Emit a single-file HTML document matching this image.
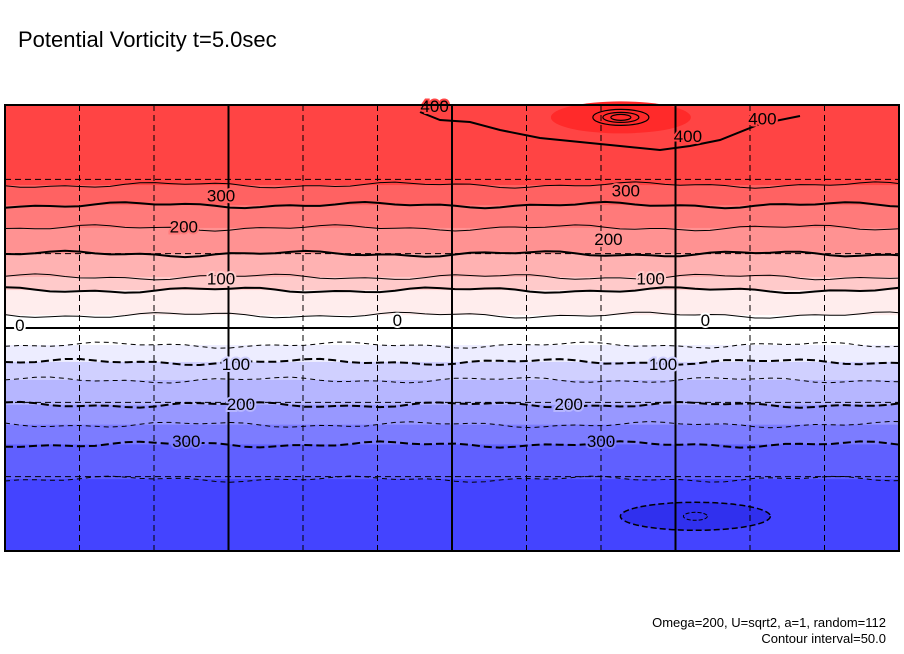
<!DOCTYPE html>
<html><head><meta charset="utf-8"><style>
body{margin:0;background:#fff;}
svg{display:block;font-family:"Liberation Sans",sans-serif;}
</style></head><body>
<svg id="c" width="904" height="654">
<text x="18" y="47" font-size="22" fill="#000">Potential Vorticity t=5.0sec</text>
<text x="886" y="627" font-size="13" text-anchor="end">Omega=200, U=sqrt2, a=1, random=112</text>
<text x="886" y="643" font-size="13" text-anchor="end">Contour interval=50.0</text>
<g id="plot"></g>
</svg>
<script>
// data
const levels = [350,300,250,200,150,100,50,0,-50,-100,-150,-200,-250,-300,-350];
const levelLats = [57.7,49.6,40.4,29.9,20.6,15.3,5.2,0,-6.9,-13.7,-21,-31,-39,-47,-61];
const bandColors = ["#ff4444","#ff6262","#ff7a7a","#ff9292","#ffb2b2","#ffcaca","#ffeded","#ffffff","#ffffff","#ededff","#d0d0ff","#b6b6ff","#9898ff","#7c7cff","#6060ff","#4444ff"];
const labelText = ["400","400","400","300","300","200","200","100","100","0","0","0","100","100","200","200","300","300"];
const labelLon = [173,305,275,87,250,72,243,87,260,6,158,282,93,265,95,227,73,240];
const labelLat = [89.6,84.5,77.5,53.5,55.5,41,36,20,20,1.2,3.2,3.2,-14.5,-14.5,-30.7,-30.7,-45.6,-45.6];

const X0=5,X1=899,Y0=105,Y1=551;
const xs=lon=>X0+(lon/360)*(X1-X0);
const ys=lat=>Y0+((90-lat)/180)*(Y1-Y0);
const NS="http://www.w3.org/2000/svg";
const g=document.getElementById('plot');
function mk(t,a){const e=document.createElementNS(NS,t);for(const k in a)e.setAttribute(k,a[k]);g.appendChild(e);return e;}

// bands
const bounds=[90].concat(levelLats,[-90]);
for(let i=0;i<bandColors.length;i++){
  const r=mk('rect',{x:X0,y:ys(bounds[i]),width:X1-X0,height:ys(bounds[i+1])-ys(bounds[i])+0.5,fill:bandColors[i]});
  
  
}
// extreme spots
const hi=mk('ellipse',{cx:xs(248),cy:ys(85),rx:70,ry:16,fill:"#ff2a2a"});


[[28,8],[18,5],[10,3]].forEach(d=>{mk('ellipse',{cx:xs(248),cy:ys(85),rx:d[0],ry:d[1],fill:"none",stroke:"#000","stroke-width":1.2});});
const lo=mk('ellipse',{cx:xs(278),cy:ys(-76),rx:75,ry:14,fill:"#3030ee",stroke:"#000","stroke-dasharray":"6,3","stroke-width":1.5});


mk('ellipse',{cx:xs(278),cy:ys(-76),rx:12,ry:4,fill:"none",stroke:"#000","stroke-dasharray":"4,2"});

// contour lines
for(let i=0;i<levels.length;i++){
  const v=levels[i],y=ys(levelLats[i]);
  let pts=[];
  const wob=x=>(y+2*Math.sin(x/37+i)+1.2*Math.sin(x/13+2*i)).toFixed(1);
  for(let x=X0;x<X1;x+=15){pts.push(x+','+wob(x));}
  pts.push(X1+','+wob(X1));
  const bold=(v%100===0);
  const a={points:pts.join(' '),fill:'none',stroke:'#000','stroke-width':bold?2:1};
  if(v<0)a['stroke-dasharray']=bold?'8,4':'5,4';
  if(v===0)a.points=X0+','+y+' '+X1+','+y;
  const l=mk('polyline',a);
  
  
}
// top 400 contour
const t400=mk('polyline',{points:"420,112 440,120 470,122 500,130 540,138 580,142 620,146 660,150 690,146 720,140 760,124 800,116",fill:"none",stroke:"#000","stroke-width":2});



// grid
for(let lon=30;lon<360;lon+=30){
  const solid=lon%90===0;
  const l=mk('line',{x1:xs(lon),x2:xs(lon),y1:Y0,y2:Y1,stroke:'#000','stroke-width':solid?2:1,'stroke-dasharray':solid?'none':'6,4'});
  
  
}
for(let lat=60;lat>-90;lat-=30){
  if(lat===0)continue;
  const l=mk('line',{x1:X0,x2:X1,y1:ys(lat),y2:ys(lat),stroke:'#000','stroke-width':1,'stroke-dasharray':'6,4'});
  
  
}
// labels
for(let i=0;i<labelText.length;i++){
  const lat=labelLat[i];
  let c='#fff';for(let k=0;k<levelLats.length;k++){if(lat<levelLats[k])c=bandColors[k+1];}
  if(lat>=levelLats[0])c=bandColors[0];
  const t=mk('text',{x:xs(labelLon[i]),y:ys(lat)+6,'font-size':17,'text-anchor':'middle',fill:'#000',stroke:c,'stroke-width':4,'paint-order':'stroke'});
  t.textContent=labelText[i];
  
  
}
// frame
const f=mk('rect',{x:X0,y:Y0,width:X1-X0,height:Y1-Y0,fill:'none',stroke:'#000','stroke-width':2});


</script>
</body></html>
